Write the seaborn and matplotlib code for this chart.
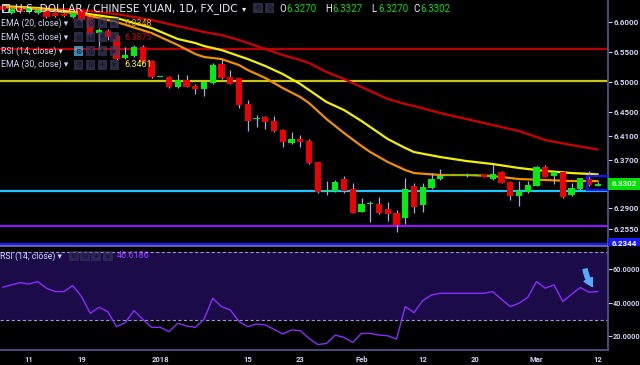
import numpy as np
import pandas as pd
import matplotlib
matplotlib.use('Agg')
import matplotlib.pyplot as plt
from matplotlib.patches import Rectangle
from matplotlib.transforms import Bbox
import seaborn as sns


# one candle per weekday, 6 Dec 2017 .. 12 Mar 2018 (USD/CNY, 1D)
dates = pd.bdate_range('2017-12-06', '2018-03-12')

opens = [6.6267, 6.6150, 6.6233, 6.6167, 6.6150, 6.6183, 6.6150, 6.6133, 6.6088, 6.6183,
         6.6088, 6.5812, 6.5850, 6.5767, 6.5395, 6.5438, 6.5588, 6.5355, 6.5083, 6.5088,
         6.4922, 6.5033, 6.4938, 6.4888, 6.4988, 6.5305, 6.5078, 6.5062, 6.4633, 6.4383,
         6.4417, 6.4350, 6.4200, 6.3988, 6.4055, 6.4017, 6.3662, 6.3183, 6.3183, 6.3378,
         6.3212, 6.2842, 6.2962, 6.2967, 6.2888, 6.2817, 6.2728, 6.3272, 6.2950, 6.3238,
         6.3378, 6.3450, 6.3450, 6.3450, 6.3450, 6.3450, 6.3378, 6.3505, 6.3338, 6.3100,
         6.3162, 6.3272, 6.3578, 6.3433, 6.3505, 6.3112, 6.3217, 6.3388, 6.3270]
highs = [6.6300, 6.6233, 6.6250, 6.6267, 6.6217, 6.6200, 6.6167, 6.6150, 6.6167, 6.6200,
         6.6100, 6.5895, 6.5878, 6.5783, 6.5578, 6.5617, 6.5617, 6.5370, 6.5090, 6.5100,
         6.5133, 6.5117, 6.4962, 6.5010, 6.5322, 6.5378, 6.5200, 6.5075, 6.4700, 6.4450,
         6.4438, 6.4433, 6.4215, 6.4167, 6.4117, 6.4045, 6.3675, 6.3350, 6.3367, 6.3433,
         6.3317, 6.3062, 6.3017, 6.3083, 6.2995, 6.2867, 6.3400, 6.3317, 6.3312, 6.3478,
         6.3545, 6.3455, 6.3455, 6.3483, 6.3455, 6.3455, 6.3633, 6.3517, 6.3345, 6.3345,
         6.3355, 6.3595, 6.3617, 6.3505, 6.3517, 6.3322, 6.3405, 6.3517, 6.3327]
lows = [6.6167, 6.6133, 6.6150, 6.6150, 6.6133, 6.6067, 6.6083, 6.6083, 6.6067, 6.6017,
        6.5767, 6.5562, 6.5700, 6.5362, 6.5378, 6.5420, 6.5320, 6.5062, 6.5080, 6.4905,
        6.4905, 6.4910, 6.4800, 6.4767, 6.4975, 6.5045, 6.4960, 6.4567, 6.4188, 6.4255,
        6.4217, 6.4170, 6.3912, 6.3975, 6.3922, 6.3630, 6.3145, 6.3117, 6.3170, 6.3158,
        6.2810, 6.2830, 6.2672, 6.2800, 6.2683, 6.2505, 6.2633, 6.2812, 6.2838, 6.3212,
        6.3367, 6.3445, 6.3445, 6.3417, 6.3445, 6.3415, 6.3370, 6.3310, 6.3033, 6.2938,
        6.3150, 6.3260, 6.3410, 6.3295, 6.3065, 6.3100, 6.3205, 6.3270, 6.3270]
closes = [6.6200, 6.6217, 6.6167, 6.6233, 6.6200, 6.6088, 6.6100, 6.6100, 6.6155, 6.6033,
          6.5783, 6.5867, 6.5755, 6.5378, 6.5455, 6.5588, 6.5333, 6.5083, 6.5088, 6.4922,
          6.5033, 6.4922, 6.4883, 6.4995, 6.5288, 6.5062, 6.4975, 6.4612, 6.4355, 6.4400,
          6.4333, 6.4183, 6.3995, 6.4055, 6.4005, 6.3645, 6.3172, 6.3190, 6.3328, 6.3188,
          6.2822, 6.2962, 6.2970, 6.2817, 6.2808, 6.2617, 6.3212, 6.2922, 6.3250, 6.3378,
          6.3433, 6.3452, 6.3450, 6.3452, 6.3450, 6.3422, 6.3472, 6.3322, 6.3100, 6.3183,
          6.3288, 6.3578, 6.3422, 6.3495, 6.3078, 6.3228, 6.3395, 6.3278, 6.3302]

rsi = [49.2, 50.6, 51.9, 51.1, 52.5, 48.6, 46.6, 46.6, 50.2, 43.6,
       33.7, 37.3, 34.7, 25.8, 28.2, 35.3, 30.2, 25.4, 25.4, 22.8,
       27.8, 26.2, 25.4, 30.2, 42.6, 37.7, 35.7, 28.8, 25.8, 27.4,
       26.8, 24.2, 21.4, 23.8, 23.4, 18.8, 15.2, 15.8, 20.8, 19.4,
       16.4, 21.8, 21.8, 20.8, 20.4, 18.4, 37.7, 34.1, 41.3, 44.6,
       45.6, 45.6, 45.6, 45.6, 45.6, 45.6, 46.6, 42.0, 37.7, 39.7,
       43.2, 52.5, 48.6, 50.6, 40.7, 45.0, 49.0, 46.2, 46.62]

# moving averages at some candles
ema_idx = [0, 4, 9, 13, 17, 20, 22, 23, 25, 27, 28, 30, 32, 34, 35, 37, 39, 41, 42, 44,
           46, 47, 50, 53, 56, 59, 62, 65, 68]
ema20 = [6.6250, 6.6217, 6.6133, 6.6000, 6.5817, 6.5617, 6.5467, 6.5417, 6.5383, 6.5283,
         6.5200, 6.5067, 6.4900, 6.4750, 6.4650, 6.4383, 6.4150, 6.3933, 6.3833, 6.3667,
         6.3533, 6.3483, 6.3450, 6.3450, 6.3433, 6.3383, 6.3367, 6.3350, 6.3348]
ema30 = [6.6267, 6.6233, 6.6150, 6.6067, 6.5900, 6.5717, 6.5650, 6.5600, 6.5533, 6.5433,
         6.5383, 6.5267, 6.5133, 6.4967, 6.4867, 6.4667, 6.4533, 6.4350, 6.4250, 6.4050,
         6.3900, 6.3833, 6.3750, 6.3683, 6.3633, 6.3567, 6.3517, 6.3483, 6.3461]
ema55 = [6.6250, 6.6233, 6.6200, 6.6133, 6.6033, 6.5933, 6.5867, 6.5833, 6.5783, 6.5700,
         6.5650, 6.5550, 6.5450, 6.5367, 6.5317, 6.5167, 6.5050, 6.4917, 6.4850, 6.4717,
         6.4633, 6.4600, 6.4483, 6.4383, 6.4283, 6.4183, 6.4033, 6.3950, 6.3875]

# horizontal levels drawn on the chart
levels = [6.5550, 6.5020, 6.3188, 6.2600, 6.2305]
level_colors = ['#b80000', '#c8c814', '#19c8ff', '#8c14ff', '#1a1aff']

price_ticks = [6.6000, 6.5500, 6.5000, 6.4500, 6.4100, 6.3700, 6.2900, 6.2550]
rsi_ticks = [20, 40, 60]
xtick_dates = ['2017-12-11', '2017-12-19', '2018-01-01', '2018-01-15', '2018-01-23',
               '2018-02-01', '2018-02-12', '2018-02-20', '2018-03-01', '2018-03-12']
xtick_labels = ['11', '19', '2018', '15', '23', 'Feb', '12', '20', 'Mar', '12']


W, H = 640, 365
TXT = '#d2d2f5'
FAM = ['Roboto', 'DejaVu Sans']


def fx(x):
    return x / W


def fy(y):
    return 1 - y / H


def put(x, y, s, color=TXT, size=6.3, weight='normal', family=FAM, **kw):
    return fig.text(fx(x), fy(y), s, color=color, fontsize=size, weight=weight,
                    va='center', ha='left', family=family, zorder=12, **kw)


def icon_boxes(y, xs, glyphs, first=None, alpha=0.7):
    for k, (x, g) in enumerate(zip(xs, glyphs)):
        fc = first if (k == 0 and first) else '#3c3c60'
        fig.add_artist(Rectangle((fx(x), fy(y + 5)), 9.5 / W, 10 / H, transform=fig.transFigure,
                                 facecolor=fc, alpha=alpha, edgecolor='none', zorder=11))
        fig.text(fx(x + 4.75), fy(y), g, color='#14142c', fontsize=5.5, ha='center',
                 va='center', family=FAM, zorder=12, weight='bold')


sns.set_theme(style='dark', rc={'axes.facecolor': 'black', 'figure.facecolor': 'black',
                                'axes.grid': False})
plt.rcParams['font.family'] = FAM

fig = plt.figure(figsize=(6.4, 3.65), dpi=100)
ax = fig.add_axes([0, fy(246), fx(608), (246) / H])
ax2 = fig.add_axes([0, fy(350), fx(608), (350 - 246) / H])

df = pd.DataFrame({'date': dates, 'open': opens, 'high': highs, 'low': lows, 'close': closes,
                   'rsi': rsi})
df['i'] = np.arange(len(df))
xlim = (-0.314, 69.17)

# ---- price pane
for lv, c in zip(levels, level_colors):
    ax.axhline(lv, color=c, lw=1.6, zorder=1)

ema_df = pd.DataFrame({'i': ema_idx, 'ema20': ema20, 'ema30': ema30, 'ema55': ema55})
sns.lineplot(data=ema_df, x='i', y='ema55', ax=ax, color='#d00000', lw=1.6, zorder=2)
sns.lineplot(data=ema_df, x='i', y='ema30', ax=ax, color='#f2f000', lw=1.6, zorder=2)
sns.lineplot(data=ema_df, x='i', y='ema20', ax=ax, color='#f09000', lw=1.6, zorder=2)

up = df['close'] >= df['open']
ax.vlines(df['i'], df['low'], df['high'], color='#a8a8e8', lw=0.9, zorder=3)
body_lo = df[['open', 'close']].min(axis=1)
body_h = (df['close'] - df['open']).abs().clip(lower=0.0022)
ax.bar(df['i'], body_h, bottom=body_lo, width=0.74,
       color=np.where(up, '#00ee10', '#ee0000'), zorder=4, linewidth=0)

# blue box drawn around the last candles
ax.add_patch(Rectangle((66.8, 6.3200), 2.5, 0.0233, fill=False, edgecolor='#1414ff',
                       lw=1.6, zorder=5))

ax.set_xlim(*xlim)
ax.set_ylim(6.2267, 6.6367)
ax.yaxis.tick_right()
ax.set_yticks(price_ticks)
ax.set_yticklabels([f'{v:.4f}' for v in price_ticks])
ax.tick_params(axis='y', colors=TXT, labelsize=5.8, length=3, width=0.8, pad=1)
ax.set_xticks([])
ax.set_xlabel('')
ax.set_ylabel('')
for s in ['top', 'left', 'bottom']:
    ax.spines[s].set_visible(False)
ax.spines['right'].set_color('#55558a')
for lab in ax.get_yticklabels():
    lab.set_weight('bold')

# ---- RSI pane
ax2.axhspan(30, 70, color='#1b0b48', zorder=0, lw=0)
ax2.axhline(70, color='#a090e0', lw=0.8, ls=(0, (3, 2)), zorder=1)
ax2.axhline(30, color='#a090e0', lw=0.8, ls=(0, (3, 2)), zorder=1)
sns.lineplot(data=df, x='i', y='rsi', ax=ax2, color='#8a2cff', lw=1.0, zorder=3)
ax2.annotate('', xy=(67.6, 48.3), xytext=(66.5, 61.5),
             arrowprops=dict(arrowstyle='simple,head_width=0.55,head_length=0.5,tail_width=0.25',
                             color='#5aa8ff', connectionstyle='arc3,rad=0.15'), zorder=5)
ax2.set_xlim(*xlim)
ax2.set_ylim(11.93, 73.65)
ax2.yaxis.tick_right()
ax2.set_yticks(rsi_ticks)
ax2.set_yticklabels([f'{v:.4f}' for v in rsi_ticks])
ax2.tick_params(axis='y', colors=TXT, labelsize=5.2, length=3, width=0.8, pad=0.5)
tick_pos = [int(np.where(dates == pd.Timestamp(d))[0][0]) for d in xtick_dates]
ax2.set_xticks(tick_pos)
ax2.set_xticklabels(xtick_labels)
ax2.tick_params(axis='x', colors=TXT, labelsize=5.5, length=2, width=0.8, pad=2)
for lab in ax2.get_xticklabels() + ax2.get_yticklabels():
    lab.set_weight('bold')
ax2.set_xlabel('')
ax2.set_ylabel('')
ax2.spines['left'].set_visible(False)
for s in ['top', 'right', 'bottom']:
    ax2.spines[s].set_color('#55558a')
ax2.spines['top'].set_color('#7070b8')

# ---- price labels on the axis
fig.add_artist(Rectangle((fx(608), fy(190)), 32 / W, 12 / H, transform=fig.transFigure,
                         facecolor='#00e000', edgecolor='none', zorder=11))
put(612, 184, '6.3302', color='#eaffea', size=5.8, weight='bold')
fig.add_artist(Rectangle((fx(608), fy(246)), 32 / W, 8 / H, transform=fig.transFigure,
                         facecolor='#1a1aff', edgecolor='none', zorder=11))
t = put(612, 244, '6.2344', color='white', size=5.8, weight='bold')
t.set_clip_box(Bbox([[608, H - 246], [640, H - 238]]))

# ---- header and legends
fig.add_artist(Rectangle((fx(2), fy(12)), 7 / W, 8 / H, transform=fig.transFigure,
                         fill=False, edgecolor=TXT, lw=0.7, zorder=12))
put(15, 9, 'U.S. DOLLAR / CHINESE YUAN, 1D, FX_IDC', color='#ececff', size=7.7,
    family=['DejaVu Sans'])
put(242, 9, '\u25be', color='#ececff', size=6)
icon_boxes(8, [253, 264.5], ['\u2299', '\u2699'])
for x, k, v in [(279, 'O', '6.3270'), (325, 'H', '6.3327'), (371, 'L', '6.3270'),
                (413, 'C', '6.3302')]:
    put(x, 9, k, color='#ececff', size=7.0)
    put(x + 7.5, 9, v, color='#00e000', size=7.0)

glyphs = ['\u2299', '\u2699', '+', '\u00d7']
rows = [(23, 'EMA (20, close)', '6.3348', '#e8a800', None),
        (37, 'EMA (55, close)', '6.3875', '#c80000', None),
        (51, 'RSI (14, close)', None, None, '#4ec8ff'),
        (64.5, 'EMA (30, close)', '6.3461', '#f5f51a', None)]
for y, name, val, vc, first in rows:
    put(1, y, name + ' \u25be', size=6.3)
    icon_boxes(y, [73.5, 85.5, 97.5, 109.5], glyphs, first=first)
    if val:
        put(124, y, val, color=vc, size=6.5)

put(0, 256, 'RSI (14, close) \u25be', size=6.3)
icon_boxes(256, [69, 80, 91, 103], glyphs, alpha=0.55)
put(117, 256, '46.6186', color='#9a3cff', size=6.5)

fig.savefig('out.png', dpi=100, facecolor='black')
